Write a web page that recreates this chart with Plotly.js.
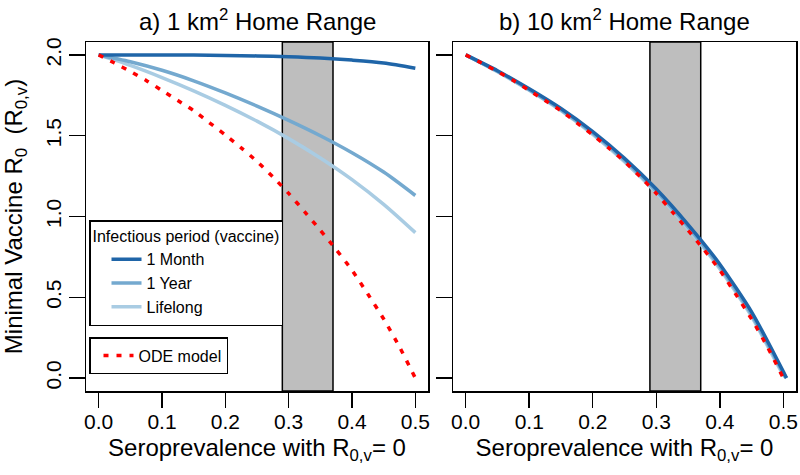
<!DOCTYPE html>
<html>
<head>
<meta charset="utf-8">
<script src="https://cdn.plot.ly/plotly-3.0.1.min.js"></script>
<style>html,body{margin:0;padding:0;background:#fff;}#chart{width:800px;height:475px;}</style>
</head>
<body>
<div id="chart"></div>
<script>
// ---- data ----
const panelTitles = ['a) 1 km<sup>2</sup> Home Range', 'b) 10 km<sup>2</sup> Home Range'];
const seriesNames = ['1 Month', '1 Year', 'Lifelong'];
const odeName = 'ODE model';
const band = [0.29, 0.37];

// panel a (1 km2)
const xA = [0, 0.05, 0.1, 0.15, 0.2, 0.25, 0.3, 0.35, 0.4, 0.45, 0.5];
const monthA = [2.0, 2.0, 1.9995, 1.999, 1.997, 1.994, 1.989, 1.981, 1.968, 1.95, 1.918];
const yearA = [2.0, 1.958, 1.905, 1.84, 1.765, 1.683, 1.595, 1.5, 1.395, 1.275, 1.13];
const lifeA = [2.0, 1.935, 1.86, 1.778, 1.688, 1.59, 1.482, 1.362, 1.228, 1.075, 0.9];

// ODE model (same in both panels)
const xOde = [0, 0.025, 0.05, 0.075, 0.1, 0.125, 0.15, 0.175, 0.2, 0.225, 0.25, 0.275, 0.3, 0.325, 0.35, 0.375, 0.4, 0.425, 0.45, 0.475, 0.5];
const yOde = [2.0, 1.95, 1.898, 1.842, 1.78, 1.718, 1.655, 1.58, 1.505, 1.425, 1.341, 1.245, 1.143, 1.03, 0.915, 0.795, 0.668, 0.52, 0.366, 0.193, 0.0];

// panel b (10 km2)
const xB = [0, 0.05, 0.1, 0.15, 0.2, 0.25, 0.3, 0.35, 0.4, 0.45, 0.5, 0.505];
const monthB = [2.0, 1.902, 1.79, 1.668, 1.525, 1.36, 1.17, 0.95, 0.705, 0.41, 0.04, 0.0];
const yearB = [2.0, 1.899, 1.785, 1.661, 1.516, 1.349, 1.157, 0.936, 0.69, 0.395, 0.03, 0.0];
const lifeB = [2.0, 1.896, 1.781, 1.655, 1.508, 1.339, 1.146, 0.924, 0.677, 0.382, 0.02, 0.0];

const xTicks = [0, 0.1, 0.2, 0.3, 0.4, 0.5];
const yTicks = [0, 0.5, 1.0, 1.5, 2.0];
const xTitle = 'Seroprevalence with R<sub>0,v</sub>= 0';
const yTitle = 'Minimal Vaccine R<sub>0</sub>  (R<sub>0,v</sub>)';
const legendTitle = 'Infectious period (vaccine)';

// ---- styles ----
const colors = ['#1f65a8', '#74a9cf', '#a9cce3'];
const red = '#ff0000';
const FONT = 'Liberation Sans, Arial, Helvetica, sans-serif';

const traces = [];
const seriesA = [monthA, yearA, lifeA];
const seriesB = [monthB, yearB, lifeB];
// draw order: Lifelong, 1 Year, 1 Month
for (let i = 2; i >= 0; i--) {
  traces.push({x: xA, y: seriesA[i], type: 'scatter', mode: 'lines', name: seriesNames[i],
    line: {color: colors[i], width: 3.5, shape: 'spline', smoothing: 0.8}, xaxis: 'x', yaxis: 'y',
    legend: 'legend', legendrank: i + 1, showlegend: true});
}
traces.push({x: xOde, y: yOde, type: 'scatter', mode: 'lines', name: odeName,
  line: {color: red, width: 3.5, dash: '5px,8px', shape: 'spline', smoothing: 0.6}, xaxis: 'x', yaxis: 'y',
  legend: 'legend2', showlegend: true});
for (let i = 2; i >= 0; i--) {
  traces.push({x: xB, y: seriesB[i], type: 'scatter', mode: 'lines', name: seriesNames[i],
    line: {color: colors[i], width: 3.5, shape: 'spline', smoothing: 0.6}, xaxis: 'x2', yaxis: 'y2', showlegend: false});
}
traces.push({x: xOde, y: yOde, type: 'scatter', mode: 'lines', name: odeName,
  line: {color: red, width: 3.5, dash: '5px,8px', shape: 'spline', smoothing: 0.6}, xaxis: 'x2', yaxis: 'y2', showlegend: false});

const W = 800, H = 475;
const yDom = [1 - 391 / H, 1 - 42 / H];
function xAxis(dom) {
  return {domain: dom, range: [-0.02, 0.52], tickvals: xTicks, tickformat: '.1f',
    showline: true, mirror: true, linecolor: 'black', linewidth: 1.5,
    ticks: 'outside', ticklen: 15, tickwidth: 1.5, tickcolor: 'black', ticklabelstandoff: -4,
    showgrid: false, zeroline: false, tickfont: {size: 21, color: 'black'},
    title: {text: xTitle, font: {size: 24, color: 'black'}, standoff: 7}};
}
function yAxis(showLabels, withTitle) {
  const a = {domain: yDom, range: [-0.08, 2.08], tickvals: yTicks, tickformat: '.1f', tickangle: -90,
    showline: true, mirror: true, linecolor: 'black', linewidth: 1.5,
    ticks: 'outside', ticklen: 16, tickwidth: 1.5, tickcolor: 'black', ticklabelstandoff: -1,
    showgrid: false, zeroline: false, showticklabels: showLabels, tickfont: {size: 21, color: 'black'}};
  if (withTitle) a.title = {text: yTitle, font: {size: 24, color: 'black'}, standoff: 14};
  return a;
}

const bandShape = (xr, yr) => ({type: 'rect', xref: xr, yref: yr + ' domain', x0: band[0], x1: band[1], y0: 0, y1: 1,
  fillcolor: '#bebebe', line: {color: 'black', width: 1.5}, layer: 'below'});

const layout = {
  width: W, height: H, margin: {l: 0, r: 0, t: 0, b: 0},
  paper_bgcolor: 'white', plot_bgcolor: 'white',
  font: {family: FONT, color: 'black'},
  xaxis: xAxis([86 / W, 428 / W]),
  xaxis2: xAxis([453 / W, 796 / W]),
  yaxis: yAxis(true, true),
  yaxis2: Object.assign(yAxis(false, false), {anchor: 'x2'}),
  shapes: [bandShape('x', 'y'), bandShape('x2', 'y2')],
  annotations: [
    {text: panelTitles[0], xref: 'paper', yref: 'paper', x: 257 / W, y: 1 - 20 / H, xanchor: 'center', yanchor: 'middle', showarrow: false, font: {size: 24, color: 'black'}},
    {text: panelTitles[1], xref: 'paper', yref: 'paper', x: 624.5 / W, y: 1 - 20 / H, xanchor: 'center', yanchor: 'middle', showarrow: false, font: {size: 24, color: 'black'}}
  ],
  legend: {x: 89 / W, y: 1 - 220 / H, xanchor: 'left', yanchor: 'top', bgcolor: 'white', bordercolor: 'black', borderwidth: 1.5,
    font: {size: 16, color: 'black'}, title: {text: legendTitle, font: {size: 16, color: 'black'}}, traceorder: 'normal', indentation: 16},
  legend2: {x: 89 / W, y: 1 - 337 / H, xanchor: 'left', yanchor: 'top', bgcolor: 'white', bordercolor: 'black', borderwidth: 1.5,
    font: {size: 16, color: 'black'}, indentation: 8}
};
layout.xaxis2.anchor = 'y2';
layout.xaxis.anchor = 'y';

Plotly.newPlot('chart', traces, layout, {displayModeBar: false, staticPlot: true});
</script>
</body>
</html>
